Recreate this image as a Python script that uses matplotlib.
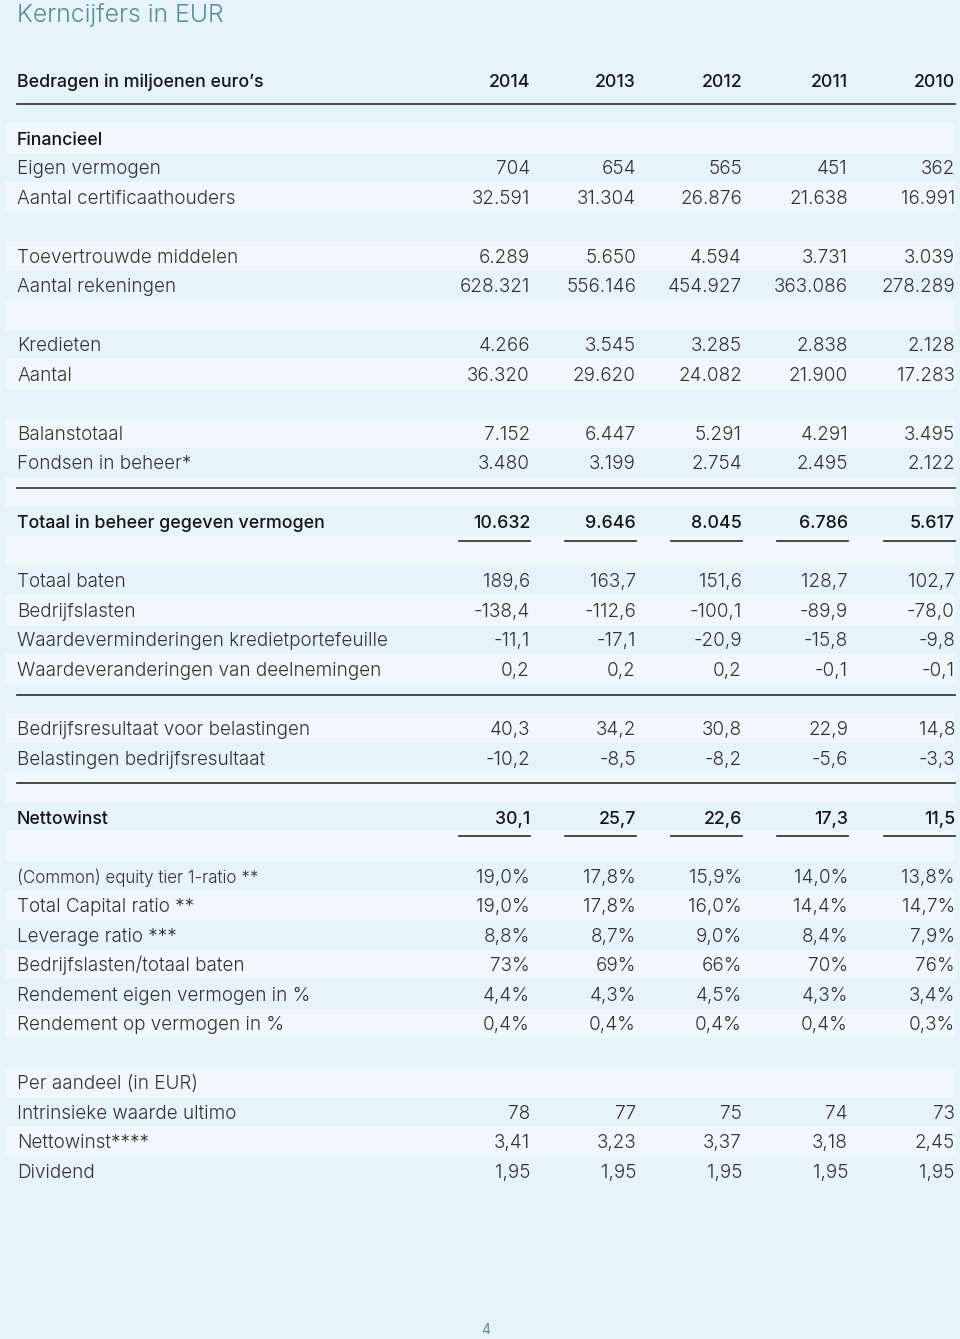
import matplotlib
matplotlib.use("Agg")
import matplotlib.pyplot as plt

years = ["2014", "2013", "2012", "2011", "2010"]

fin_labels = ["Eigen vermogen", "Aantal certificaathouders"]
fin_values = [["704", "654", "565", "451", "362"],
              ["32.591", "31.304", "26.876", "21.638", "16.991"]]

toev_labels = ["Toevertrouwde middelen", "Aantal rekeningen"]
toev_values = [["6.289", "5.650", "4.594", "3.731", "3.039"],
               ["628.321", "556.146", "454.927", "363.086", "278.289"]]

kred_labels = ["Kredieten", "Aantal"]
kred_values = [["4.266", "3.545", "3.285", "2.838", "2.128"],
               ["36.320", "29.620", "24.082", "21.900", "17.283"]]

bal_labels = ["Balanstotaal", "Fondsen in beheer*"]
bal_values = [["7.152", "6.447", "5.291", "4.291", "3.495"],
              ["3.480", "3.199", "2.754", "2.495", "2.122"]]

totaal_label = "Totaal in beheer gegeven vermogen"
totaal_values = ["10.632", "9.646", "8.045", "6.786", "5.617"]

res_labels = ["Totaal baten", "Bedrijfslasten",
              "Waardeverminderingen kredietportefeuille",
              "Waardeveranderingen van deelnemingen"]
res_values = [["189,6", "163,7", "151,6", "128,7", "102,7"],
              ["-138,4", "-112,6", "-100,1", "-89,9", "-78,0"],
              ["-11,1", "-17,1", "-20,9", "-15,8", "-9,8"],
              ["0,2", "0,2", "0,2", "-0,1", "-0,1"]]

bel_labels = ["Bedrijfsresultaat voor belastingen", "Belastingen bedrijfsresultaat"]
bel_values = [["40,3", "34,2", "30,8", "22,9", "14,8"],
              ["-10,2", "-8,5", "-8,2", "-5,6", "-3,3"]]

netto_label = "Nettowinst"
netto_values = ["30,1", "25,7", "22,6", "17,3", "11,5"]

ratio_labels = ["(Common) equity tier 1-ratio **", "Total Capital ratio **",
                "Leverage ratio ***", "Bedrijfslasten/totaal baten",
                "Rendement eigen vermogen in %", "Rendement op vermogen in %"]
ratio_values = [["19,0%", "17,8%", "15,9%", "14,0%", "13,8%"],
                ["19,0%", "17,8%", "16,0%", "14,4%", "14,7%"],
                ["8,8%", "8,7%", "9,0%", "8,4%", "7,9%"],
                ["73%", "69%", "66%", "70%", "76%"],
                ["4,4%", "4,3%", "4,5%", "4,3%", "3,4%"],
                ["0,4%", "0,4%", "0,4%", "0,4%", "0,3%"]]

aandeel_labels = ["Intrinsieke waarde ultimo", "Nettowinst****", "Dividend"]
aandeel_values = [["78", "77", "75", "74", "73"],
                  ["3,41", "3,23", "3,37", "3,18", "2,45"],
                  ["1,95", "1,95", "1,95", "1,95", "1,95"]]

# build rows: (label, values, kind)
rows = [("Financieel", None, "bold")]
rows += [(l, v, "") for l, v in zip(fin_labels, fin_values)]
rows += [("", None, "")]
rows += [(l, v, "") for l, v in zip(toev_labels, toev_values)]
rows += [("", None, "")]
rows += [(l, v, "") for l, v in zip(kred_labels, kred_values)]
rows += [("", None, "")]
rows += [(l, v, "") for l, v in zip(bal_labels, bal_values)]
rows += [("", None, "line")]
rows += [(totaal_label, totaal_values, "total")]
rows += [("", None, "")]
rows += [(l, v, "") for l, v in zip(res_labels, res_values)]
rows += [("", None, "line")]
rows += [(l, v, "") for l, v in zip(bel_labels, bel_values)]
rows += [("", None, "line")]
rows += [(netto_label, netto_values, "total")]
rows += [("", None, "")]
rows += [(l, v, "") for l, v in zip(ratio_labels, ratio_values)]
rows += [("", None, "")]
rows += [("Per aandeel (in EUR)", None, "")]
rows += [(l, v, "") for l, v in zip(aandeel_labels, aandeel_values)]

bg = "#e6f3fa"
stripe = "#f0f8fc"
txt = "#333333"
dark = "#151515"
linec = "#3c3c3c"
font = "Inter"

fig = plt.figure(figsize=(9.6, 13.39), dpi=100, facecolor=bg)
ax = fig.add_axes([0, 0, 1, 1])
ax.set_xlim(0, 960)
ax.set_ylim(1339, 0)
ax.axis("off")
ax.set_facecolor(bg)

x0 = 17
col_right = [530, 636, 742, 848, 955]
y_first = 138
dy = 29.51
fs = 13.6
fs_bold = 12.8
base_off = 6.8

ax.text(x0, 22, "Kerncijfers in EUR", fontsize=17.8, color="#5b8d90",
        family=font, fontweight=300, va="baseline")

# header
ax.text(x0, 80 + base_off, "Bedragen in miljoenen euro\u2019s", fontsize=fs_bold,
        color=dark, family=font, fontweight=500, va="baseline")
for x, yr in zip(col_right, years):
    ax.text(x, 80 + base_off, yr, fontsize=fs_bold, color=dark, family=font,
            fontweight=500, ha="right", va="baseline")
ax.plot([x0, 955], [104, 104], color=linec, lw=1.3)

for i, (label, vals, kind) in enumerate(rows):
    yc = y_first + i * dy
    if i % 2 == 0:
        ax.add_patch(plt.Rectangle((5, yc - dy / 2), 950, dy, color=stripe, lw=0))
    if kind == "line":
        ax.plot([x0, 955], [yc - 4, yc - 4], color=linec, lw=1.3)
        continue
    heavy = kind in ("bold", "total")
    w = 500 if heavy else 300
    c = dark if heavy else txt
    size = fs_bold if heavy else fs
    lab_size = size
    if label.startswith("(Common)"):
        lab_size = size * 0.9
    ax.text(x0, yc + base_off, label, fontsize=lab_size, color=c, family=font,
            fontweight=w, va="baseline")
    if vals:
        for x, v in zip(col_right, vals):
            ax.text(x, yc + base_off, v, fontsize=size, color=c, family=font,
                    fontweight=w, ha="right", va="baseline")
    if kind == "total":
        for x in col_right:
            ax.plot([x - 71, x], [yc + 19, yc + 19], color=linec, lw=1.3)

ax.text(486, 1329 + 5, "4", fontsize=10, color="#5b8d90", family=font,
        ha="center", va="baseline")

fig.savefig("out.png", dpi=100, facecolor=bg)
